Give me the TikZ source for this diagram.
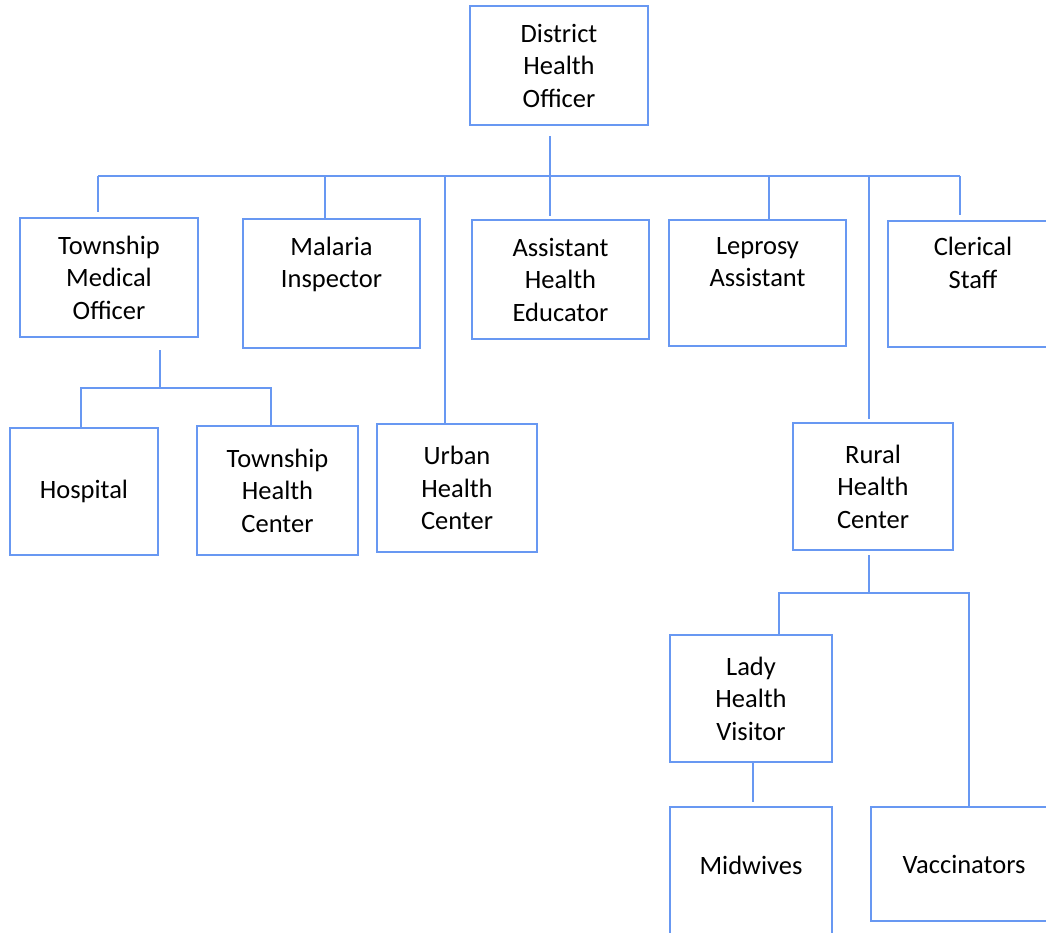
\documentclass[tikz,border=0pt]{standalone}
\usepackage{fontspec}
\setmainfont{Carlito}
\definecolor{orgblue}{RGB}{104,152,242}

\begin{document}
\begin{tikzpicture}[
    x=1pt, y=-1pt,
    unit/.style={rectangle, draw=orgblue, line width=2.4pt, inner sep=0pt, align=center, font=\fontsize{26.5}{32.5}\selectfont},
    link/.style={draw=orgblue, line width=2.4pt}
]
\useasboundingbox (0,0) rectangle (1046,932);
\clip (0,0) rectangle (1046,932);

% Head of the district
\node[unit, minimum width=178pt, minimum height=119pt] (dho) at (559,65.5) {District\\Health\\Officer};

% Second row
\node[unit, minimum width=178pt, minimum height=119pt] (tmo) at (109,277.5) {Township\\Medical\\Officer};
\node[unit, minimum width=177pt, minimum height=129pt] (malaria) at (331.5,283.5) {Malaria\\Inspector\\\strut};
\node[unit, minimum width=177pt, minimum height=119pt] (ahe) at (560.5,279.5) {Assistant\\Health\\Educator};
\node[unit, minimum width=177pt, minimum height=126pt] (leprosy) at (757.5,283) {Leprosy\\Assistant\\\strut};
\node[unit, minimum width=170pt, minimum height=126pt] (clerical) at (973,284) {Clerical\\Staff\\\strut};

% Third row
\node[unit, minimum width=148pt, minimum height=127pt] (hospital) at (84,491.5) {Hospital};
\node[unit, minimum width=161pt, minimum height=129pt] (thc) at (277.5,490.5) {Township\\Health\\Center};
\node[unit, minimum width=160pt, minimum height=128pt] (urban) at (457,488) {Urban\\Health\\Center};
\node[unit, minimum width=160pt, minimum height=127pt] (rural) at (873,486.5) {Rural\\Health\\Center};

% Under the rural health center
\node[unit, minimum width=162pt, minimum height=127pt] (lhv) at (751,698.5) {Lady\\Health\\Visitor};
\node[unit, minimum width=162pt, minimum height=159pt] (midwives) at (751,886.5) {Midwives\\\strut};
\node[unit, minimum width=186pt, minimum height=114pt] (vaccinators) at (964,864) {Vaccinators};

% Bus under the district officer
\coordinate (hub) at (550,176);
\coordinate (busL) at (98,176);
\coordinate (busR) at (960,176);
\draw[link, shorten <=10pt] (hub |- dho.south) -- (hub);
\draw[link] (busL) -- (busR);
\foreach \dx/\nm/\gap in {98/tmo/5, 325/malaria/0, 445/urban/0, 550/ahe/3, 769/leprosy/0, 869/rural/3, 960/clerical/5} {
   \coordinate (d-\nm) at (\dx,176);
   \draw[link, shorten >=\gap pt] (d-\nm) -- (d-\nm |- \nm.north);
}

% Township medical officer
\coordinate (tj) at (160,388);
\coordinate (t1) at (81,388);
\coordinate (t2) at (271,388);
\draw[link, shorten <=12pt] (tj |- tmo.south) -- (tj);
\draw[link] (t1 |- hospital.north) -- (t1) -- (t2) -- (t2 |- thc.north);

% Rural health center
\coordinate (rj) at (869,593);
\coordinate (r1) at (779,593);
\coordinate (r2) at (969,593);
\draw[link, shorten <=4pt] (rj |- rural.south) -- (rj);
\draw[link] (r1 |- lhv.north) -- (r1) -- (r2) -- (r2 |- vaccinators.north);
\draw[link, shorten >=4pt] ([xshift=2pt]lhv.south) -- ([xshift=2pt]midwives.north);

\end{tikzpicture}
\end{document}
